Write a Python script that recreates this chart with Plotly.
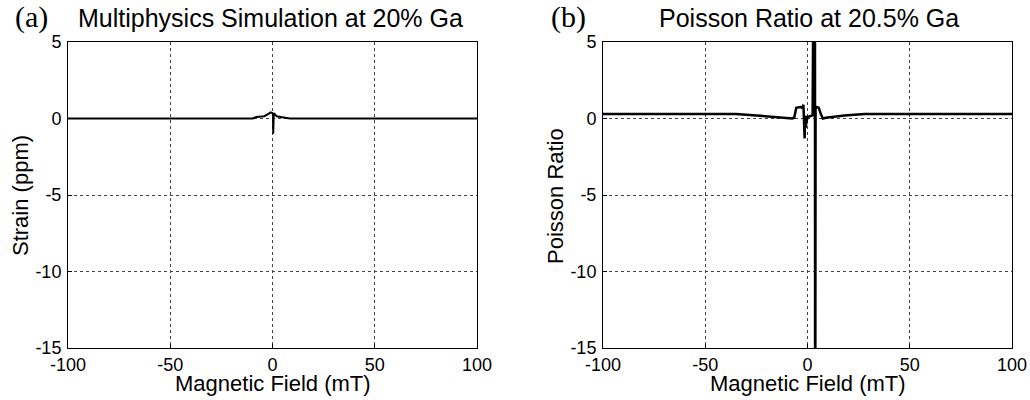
import plotly.graph_objects as go

# ---- data ----
field_a = [-100, -9.5, -8, -4, -2, -0.8, 0, 0.25, 0.35, 0.45, 0.6, 1, 2, 4, 8.5, 100]
strain_a = [0, 0, 0.1, 0.15, 0.3, 0.4, 0.35, 0.2, -1.0, 0.2, 0.35, 0.3, 0.15, 0.1, 0, 0]

field_b = [-100, -35, -25, -15, -10, -7.5, -6.5, -5.5, -3.5, -2.5, -2.0, -1.8, -1.6, -1.4, -1.2,
           -1.0, 0, 2.5, 3.6, 3.7, 3.75, 3.95, 4.3, 5.5, 6.5, 7.5, 9, 12, 18, 28, 100]
poisson_b = [0.3, 0.3, 0.2, 0.1, 0.05, 0.0, 0.05, 0.7, 0.75, 0.7, 0.9, -0.3, 0.5, -1.3, 0.2,
             -0.6, 0.1, 0.2, 25, -30, -30, 0.7, 0.75, 0.7, 0.3, 0.0, 0.05, 0.1, 0.2, 0.3, 0.3]

x_ticks = [-100, -50, 0, 50, 100]
x_tick_text = ["-100", "-50", "0", "50", "100"]
y_ticks = [5, 0, -5, -10, -15]
y_tick_text = ["5", "0", "-5", "-10", "-15"]

titles = ["Multiphysics Simulation at 20% Ga", "Poisson Ratio at 20.5% Ga"]
panel_labels = ["(a)", "(b)"]
x_title = "Magnetic Field (mT)"
y_titles = ["Strain (ppm)", "Poisson Ratio"]

W, H = 1030, 400


def px(x):
    return x / W


def py(y):
    return 1 - y / H


xdom = [[px(68), px(477)], [px(603), px(1012)]]
ydom = [py(348), py(42)]

FONT = "Liberation Sans, Arial, sans-serif"

fig = go.Figure()
fig.add_trace(go.Scatter(x=field_a, y=strain_a, mode="lines",
                         line=dict(color="black", width=2), xaxis="x", yaxis="y",
                         showlegend=False))
fig.add_trace(go.Scatter(x=field_b, y=poisson_b, mode="lines",
                         line=dict(color="black", width=2.5), xaxis="x2", yaxis="y2",
                         showlegend=False))

axis_common = dict(showline=True, linecolor="black", linewidth=1, mirror=True,
                   ticks="inside", ticklen=4, tickcolor="black", automargin=False,
                   showgrid=True, gridcolor="#444444", gridwidth=1, griddash="3px,3px",
                   zeroline=False, tickfont=dict(family=FONT, size=18, color="black"))

layout = dict(width=W, height=H, margin=dict(l=0, r=0, t=0, b=0),
              paper_bgcolor="white", plot_bgcolor="white", showlegend=False,
              template="none")
for i in range(2):
    xs = "xaxis" if i == 0 else "xaxis2"
    ys = "yaxis" if i == 0 else "yaxis2"
    layout[xs] = dict(axis_common, domain=xdom[i], range=[-100, 100], tickvals=x_ticks,
                      ticktext=x_tick_text, anchor="y" if i == 0 else "y2",
                      ticklabelstandoff=0)
    layout[ys] = dict(axis_common, domain=ydom, range=[-15, 5], tickvals=y_ticks,
                      ticktext=y_tick_text, anchor="x" if i == 0 else "x2",
                      ticklabelstandoff=2)
fig.update_layout(**layout)

ann = []
centers = [(xdom[0][0] + xdom[0][1]) / 2, (xdom[1][0] + xdom[1][1]) / 2]
title_x = [px(270), px(809)]
label_x = [px(13), px(549)]
y_title_x = [px(20), px(555)]
for i in range(2):
    ann.append(dict(text=titles[i], x=title_x[i], y=py(18), xref="paper", yref="paper",
                    xanchor="center", yanchor="middle", showarrow=False,
                    font=dict(family=FONT, size=25, color="black")))
    ann.append(dict(text=panel_labels[i], x=label_x[i], y=py(17), xref="paper", yref="paper",
                    xanchor="left", yanchor="middle", showarrow=False,
                    font=dict(family="Liberation Serif, Times New Roman, serif", size=30, color="black")))
    ann.append(dict(text=x_title, x=centers[i], y=py(383), xref="paper", yref="paper",
                    xanchor="center", yanchor="middle", showarrow=False,
                    font=dict(family=FONT, size=22, color="black")))
    ann.append(dict(text=y_titles[i], x=y_title_x[i], y=py(196), xref="paper", yref="paper",
                    xanchor="center", yanchor="middle", showarrow=False, textangle=-90,
                    font=dict(family=FONT, size=22, color="black")))
fig.update_layout(annotations=ann)

# remove the default 8px page margin so the figure sits at the window's top-left corner
fig.write_html("out.html", config={"displayModeBar": False},
               post_script="document.body.style.margin='0';")
